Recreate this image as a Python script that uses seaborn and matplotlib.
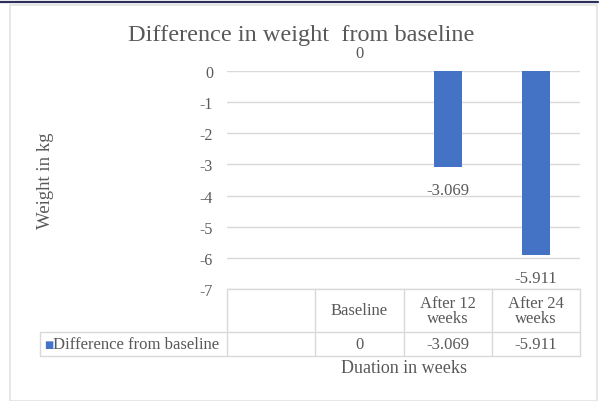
import numpy as np
import pandas as pd
import matplotlib
matplotlib.use("Agg")
import matplotlib.pyplot as plt
import matplotlib.transforms as mtransforms
from matplotlib.patches import Rectangle
from matplotlib.lines import Line2D
import seaborn as sns

# Data
categories = ["", "Baseline", "After 12\nweeks", "After 24\nweeks"]
values = [np.nan, 0, -3.069, -5.911]
value_labels = ["", "0", "-3.069", "-5.911"]
series_name = "Difference from baseline"
yticks = [0, -1, -2, -3, -4, -5, -6, -7]

sns.set_style("white")
plt.rcParams["font.family"] = ["Liberation Serif", "DejaVu Serif"]

TXT = "#595959"
GRID = "#d9d9d9"
BLUE = "#4472c4"
FS = 12

W, H = 602, 402
fig = plt.figure(figsize=(W / 100, H / 100), dpi=100)

# outer chart frame and top rule
fig.add_artist(Rectangle((10 / W, 0), 587 / W, 1 - 6 / H, transform=fig.transFigure,
                         fill=False, edgecolor="#e3e3e3", lw=1.2))
fig.add_artist(Line2D([0, 598 / W], [1 - 2.5 / H] * 2, transform=fig.transFigure,
                      color="#2b2f5a", lw=1.6))

ax = fig.add_axes([227 / W, 1 - 290 / H, 353 / W, 218 / H])
df = pd.DataFrame({"cat": categories, "val": values})
sns.barplot(data=df, x="cat", y="val", order=categories, color=BLUE,
            width=0.32, saturation=1, linewidth=0, ax=ax)
ax.set_ylim(-7, 0)
ax.set_xlim(-0.5, len(categories) - 0.5)
ax.set_yticks(yticks)
ax.set_yticklabels([str(t) for t in yticks], color=TXT, fontsize=11.5)
ax.tick_params(axis="y", length=0, pad=10)
ax.set_xticks([])
ax.set_xlabel("")
ax.set_ylabel("")
for t in yticks:
    ax.axhline(t, color=GRID, lw=1, zorder=0)
for s in ax.spines.values():
    s.set_visible(False)

# data labels
for i, (v, lab) in enumerate(zip(values, value_labels)):
    if lab == "":
        continue
    if v == 0:
        ax.annotate(lab, (i, v), xytext=(0, 7), textcoords="offset points",
                    ha="center", va="bottom", color=TXT, fontsize=FS,
                    annotation_clip=False)
    else:
        ax.annotate(lab, (i, v), xytext=(0, -11), textcoords="offset points",
                    ha="center", va="top", color=TXT, fontsize=FS,
                    annotation_clip=False)

# data table under the plot
trans = mtransforms.blended_transform_factory(ax.transData, fig.transFigure)
ftr = fig.transFigure
y_top = 1 - 290 / H
y_mid = 1 - 333 / H
y_bot = 1 - 357 / H
n = len(categories)
edges = np.arange(n + 1) - 0.5
kw = dict(color=GRID, lw=1, clip_on=False)
# header row
fig.add_artist(Line2D([edges[0], edges[-1]], [y_top, y_top], transform=trans, **kw))
for e in edges:
    fig.add_artist(Line2D([e, e], [y_top, y_bot], transform=trans, **kw))
# data row
x_left_px = 40
fig.add_artist(Line2D([x_left_px / W, 580 / W], [y_mid, y_mid], transform=ftr, **kw))
fig.add_artist(Line2D([x_left_px / W, 580 / W], [y_bot, y_bot], transform=ftr, **kw))
fig.add_artist(Line2D([x_left_px / W] * 2, [y_mid, y_bot], transform=ftr, **kw))

for i, (c, lab) in enumerate(zip(categories, value_labels)):
    fig.text(i, (y_top + y_mid) / 2, c, transform=trans, ha="center", va="center",
             color=TXT, fontsize=FS, linespacing=0.95)
    fig.text(i, (y_mid + y_bot) / 2, lab, transform=trans, ha="center", va="center",
             color=TXT, fontsize=FS)
fig.text(44 / W, (y_mid + y_bot) / 2, "\u25a0", transform=ftr, ha="left", va="center",
         color=BLUE, fontsize=7, family="DejaVu Sans")
fig.text(53 / W, (y_mid + y_bot) / 2, series_name, transform=ftr, ha="left", va="center",
         color=TXT, fontsize=FS)

# titles
fig.text(301 / W, 1 - 35 / H, "Difference in weight  from baseline", ha="center",
         va="center", color=TXT, fontsize=17.5)
fig.text(404 / W, 1 - 369 / H, "Duation in weeks", ha="center", va="center",
         color=TXT, fontsize=13)
fig.text(45 / W, 1 - 181 / H, "Weight in kg", ha="center", va="center",
         rotation=90, color=TXT, fontsize=13.5)

fig.savefig("out.png", dpi=100)
